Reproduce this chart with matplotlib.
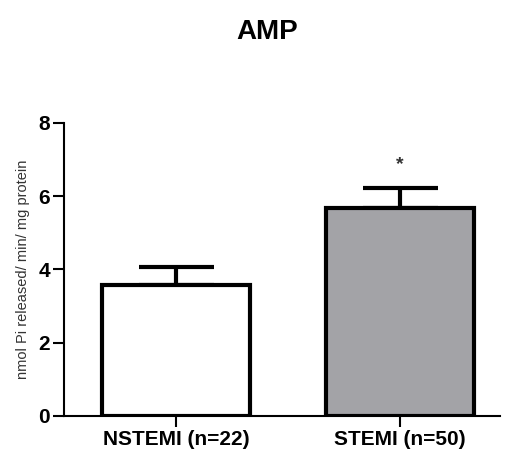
import matplotlib
matplotlib.use("Agg")
import matplotlib.pyplot as plt

plt.rcParams['font.family'] = ['Liberation Sans', 'DejaVu Sans']

categories = ["NSTEMI (n=22)", "STEMI (n=50)"]
means = [3.59, 5.68]
sem = [0.49, 0.54]
colors = ["#ffffff", "#a3a3a7"]
yticks = [0, 2, 4, 6, 8]
title = "AMP"
ylabel = "nmol Pi released/ min/ mg protein"

fig = plt.figure(figsize=(5.06, 4.53), dpi=100)
ax = fig.add_axes([0.1265, 0.0817, 0.8615, 0.6468])

x = list(range(len(categories)))
ax.bar(x, means, width=0.66, color=colors, edgecolor="black", linewidth=3, zorder=2)
ax.errorbar(x, means, yerr=[[0] * len(sem), sem], fmt="none", ecolor="black",
            elinewidth=3, capsize=27, capthick=3, zorder=1)
ax.text(1, means[1] + sem[1] + 0.65, "*", ha="center", va="center", fontsize=14,
        fontweight="bold", color="#333333")

ax.set_xlim(-0.5, 1.446)
ax.set_ylim(0, 8)
ax.set_yticks(yticks)
ax.set_xticks(x)
ax.set_xticklabels(categories, fontsize=15, fontweight="bold")
ax.set_yticklabels([str(t) for t in yticks], fontsize=15, fontweight="bold")
ax.tick_params(direction="out", length=8, width=1.5, pad=2)
for s in ["top", "right"]:
    ax.spines[s].set_visible(False)
for s in ["left", "bottom"]:
    ax.spines[s].set_linewidth(1.5)
ax.set_ylabel(ylabel, fontsize=10.5, color="#333333", labelpad=6)

fig.text(0.528, 0.93, title, ha="center", va="center", fontsize=20, fontweight="bold")

fig.savefig("out.png", dpi=100)
